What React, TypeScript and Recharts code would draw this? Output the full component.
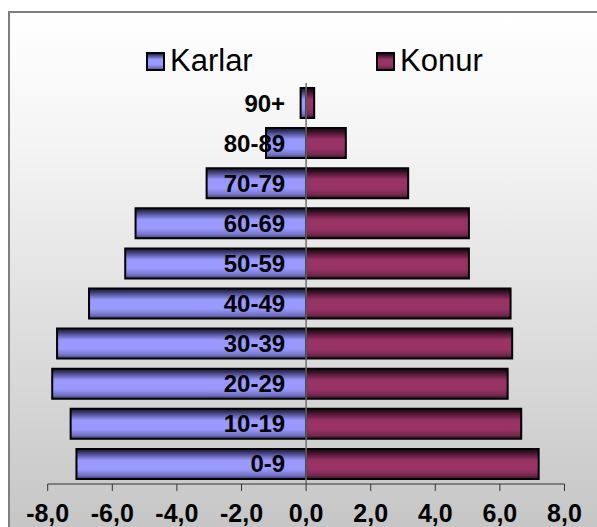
import React from 'react';
import {
  BarChart, Bar, XAxis, YAxis, ReferenceLine, LabelList
} from 'recharts';

// age groups, top to bottom
const ageGroups = ['90+', '80-89', '70-79', '60-69', '50-59', '40-49', '30-39', '20-29', '10-19', '0-9'];
// percentage of population (Karlar drawn to the left)
const karlar = [0.17, 1.24, 3.08, 5.28, 5.6, 6.72, 7.71, 7.86, 7.29, 7.11];
const konur = [0.25, 1.23, 3.16, 5.04, 5.04, 6.33, 6.38, 6.24, 6.66, 7.2];
const xTicks = [-8, -6, -4, -2, 0, 2, 4, 6, 8];

const series = [
  { key: 'Karlar', grad: 'gradKarlar', legendX: 146 },
  { key: 'Konur', grad: 'gradKonur', legendX: 376 },
];

const rows = ageGroups.map((age, i) => ({ age, Karlar: -karlar[i], Konur: konur[i] }));

const FONT = '"Liberation Sans", Arial, sans-serif';

const fmt = (v: number) => v.toFixed(1).replace('.', ',');

function XTick(props: any) {
  const { x, y, payload } = props;
  return (
    <text x={x} y={y + 29} textAnchor="middle" fontFamily={FONT} fontWeight="bold" fontSize={25} fill="#000">
      {fmt(payload.value)}
    </text>
  );
}

function AgeLabel(props: any) {
  const { x, y, width, height, value } = props;
  const zeroX = Math.max(x, x + width);
  return (
    <text x={zeroX - 21} y={y + height / 2} textAnchor="end" dominantBaseline="central"
      fontFamily={FONT} fontWeight="bold" fontSize={24} fill="#000">
      {value}
    </text>
  );
}

function LegendItem({ label, fill, left }: { label: string; fill: string; left: number }) {
  return (
    <div style={{ position: 'absolute', left, top: 43, display: 'flex', alignItems: 'center', height: 36 }}>
      <svg width={19} height={19} style={{ marginRight: 5 }}>
        <rect x={1} y={1} width={17} height={17} fill={fill} stroke="#000" strokeWidth={2} />
      </svg>
      <span style={{ fontFamily: FONT, fontSize: 31, color: '#000', lineHeight: '36px' }}>{label}</span>
    </div>
  );
}

export default function App() {
  return (
    <div style={{ position: 'absolute', left: 0, top: 0, width: 597, height: 527, background: '#fff', overflow: 'hidden' }}>
      <div style={{
        position: 'absolute', left: 8, top: 11, width: 600, height: 530,
        borderLeft: '2px solid #7f7f7f', borderTop: '2px solid #7f7f7f',
        background: 'linear-gradient(to bottom, #ffffff 0%, #f4f4f4 25%, #c4c4c4 100%)'
      }} />
      <div style={{ position: 'absolute', left: 0, top: 0 }}>
        <BarChart
          width={597}
          height={527}
          data={rows}
          layout="vertical"
          stackOffset="sign"
          margin={{ top: 83, right: 32.5, left: 47.7, bottom: 0 }}
        >
          <defs>
            <linearGradient id="gradKarlar" x1="0" y1="0" x2="0" y2="1">
              <stop offset="0%" stopColor="#15152e" />
              <stop offset="12%" stopColor="#3a3a70" />
              <stop offset="38%" stopColor="#9999ff" />
              <stop offset="68%" stopColor="#9999ff" />
              <stop offset="88%" stopColor="#7373c4" />
              <stop offset="100%" stopColor="#3c3c6e" />
            </linearGradient>
            <linearGradient id="gradKonur" x1="0" y1="0" x2="0" y2="1">
              <stop offset="0%" stopColor="#16050e" />
              <stop offset="12%" stopColor="#3d1128" />
              <stop offset="38%" stopColor="#993366" />
              <stop offset="68%" stopColor="#993366" />
              <stop offset="88%" stopColor="#76284f" />
              <stop offset="100%" stopColor="#3a1127" />
            </linearGradient>
          </defs>
          <XAxis
            type="number"
            domain={[-8, 8]}
            ticks={xTicks}
            interval={0}
            height={43}
            tickSize={7}
            tickMargin={2}
            axisLine={{ stroke: '#333' }}
            tickLine={{ stroke: '#333' }}
            tick={<XTick />}
          />
          <YAxis type="category" dataKey="age" hide />
          {series.map(s => (
            <Bar
              key={s.key}
              dataKey={s.key}
              stackId="a"
              barSize={30}
              fill={`url(#${s.grad})`}
              stroke="#000"
              strokeWidth={2}
              isAnimationActive={false}
            >
              {s.key === 'Karlar' && <LabelList dataKey="age" content={<AgeLabel />} />}
            </Bar>
          ))}
          <ReferenceLine x={0} stroke="#6e6e6e" strokeWidth={1.5} />
        </BarChart>
      </div>
      {series.map(s => (
        <LegendItem key={s.key} label={s.key} fill={`url(#${s.grad})`} left={s.legendX} />
      ))}
    </div>
  );
}
